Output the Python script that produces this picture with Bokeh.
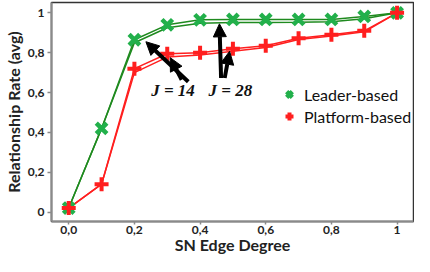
from bokeh.plotting import figure
from bokeh.models import (Range1d, FixedTicker, Arrow, NormalHead, Label,
                          Legend, LegendItem, ColumnDataSource)
from bokeh.embed import file_html
from bokeh.resources import INLINE

# ---- data ----
edge_degree = [0.0, 0.1, 0.2, 0.3, 0.4, 0.5, 0.6, 0.7, 0.8, 0.9, 1.0]
leader_j14 = [0.02, 0.42, 0.865, 0.94, 0.965, 0.967, 0.967, 0.967, 0.967, 0.982, 1.0]
leader_j28 = [0.02, 0.42, 0.85, 0.925, 0.948, 0.952, 0.952, 0.953, 0.955, 0.97, 1.0]
platform_j14 = [0.02, 0.14, 0.72, 0.795, 0.80, 0.82, 0.835, 0.873, 0.89, 0.91, 1.0]
platform_j28 = [0.02, 0.14, 0.70, 0.778, 0.788, 0.807, 0.826, 0.866, 0.884, 0.905, 1.0]

x_ticks = [0.0, 0.2, 0.4, 0.6, 0.8, 1.0]
x_tick_labels = ["0,0", "0,2", "0,4", "0,6", "0,8", "1"]
y_ticks = [0.0, 0.2, 0.4, 0.6, 0.8, 1.0]
y_tick_labels = ["0", "0,2", "0,4", "0,6", "0,8", "1"]

series_names = ["Leader-based", "Platform-based"]
annotation_texts = ["J = 14", "J = 28"]

GREEN_M = "#22b04b"
GREEN_L = "#1f8a1f"
RED = "#ff1f1f"

src = ColumnDataSource(dict(x=edge_degree, l14=leader_j14, l28=leader_j28,
                            p14=platform_j14, p28=platform_j28))

p = figure(width=414, height=256, output_backend="svg", toolbar_location=None,
           x_range=Range1d(-0.0525, 1.05), y_range=Range1d(-0.0474, 1.052),
           min_border_left=41, min_border_right=1, min_border_top=2,
           min_border_bottom=30)
p.xgrid.visible = False
p.ygrid.visible = False
p.outline_line_color = "#333333"
p.outline_line_width = 1.5
p.background_fill_color = "white"

# lines
p.line("x", "p28", source=src, line_color=RED, line_width=1.5)
p.line("x", "p14", source=src, line_color=RED, line_width=1.5)
p.line("x", "l28", source=src, line_color=GREEN_L, line_width=1.5)
p.line("x", "l14", source=src, line_color=GREEN_L, line_width=1.5)
# markers
r_leader = p.scatter("x", "l14", source=src, marker="x", size=15, line_width=4.5,
                     line_color=GREEN_M)
r_platform = p.scatter("x", "p14", source=src, marker="cross", size=14, line_width=4,
                       line_color=RED)

legend = Legend(items=[LegendItem(label=series_names[0], renderers=[r_leader]),
                       LegendItem(label=series_names[1], renderers=[r_platform])],
                location=(228, 95), orientation="vertical",
                border_line_color=None, background_fill_alpha=0,
                padding=0, margin=0, spacing=2, glyph_width=20, glyph_height=20,
                label_standoff=5, label_text_font="Lato", label_text_font_size="16px",
                label_text_color="#111111")
p.add_layout(legend, "center")

# arrows
head = lambda: NormalHead(size=13, fill_color="black", line_color="black", line_width=1)
for xs, ys, xe, ye in [(0.364, 0.654, 0.235, 0.855),
                       (0.344, 0.664, 0.309, 0.775),
                       (0.464, 0.673, 0.459, 0.945),
                       (0.475, 0.673, 0.490, 0.807)]:
    p.add_layout(Arrow(end=head(), x_start=xs, y_start=ys, x_end=xe, y_end=ye,
                       line_width=4, line_color="black"))

for txt, xl in zip(annotation_texts, [0.251, 0.426]):
    p.add_layout(Label(x=xl, y=0.611, text=txt, text_font="Liberation Serif",
                       text_font_style="bold italic", text_font_size="17px",
                       text_baseline="middle", text_align="left", text_color="#111111"))

# axes
for ax in (p.xaxis[0], p.yaxis[0]):
    ax.axis_line_color = "#8a8a8a"
    ax.axis_line_width = 2
    ax.major_tick_line_color = "#8a8a8a"
    ax.major_tick_line_width = 1.5
    ax.major_tick_in = 0
    ax.minor_tick_out = 0
    ax.minor_tick_in = 0
    ax.major_label_text_font = "Lato"
    ax.major_label_text_font_style = "bold"
    ax.major_label_text_font_size = "12px"
    ax.major_label_text_color = "#222222"
    ax.axis_label_text_font = "Lato"
    ax.axis_label_text_font_style = "bold"
    ax.axis_label_text_color = "#222222"

p.xaxis.ticker = FixedTicker(ticks=x_ticks)
p.yaxis.ticker = FixedTicker(ticks=y_ticks)
p.xaxis.major_label_overrides = {t: l for t, l in zip(x_ticks, x_tick_labels)}
p.yaxis.major_label_overrides = {t: l for t, l in zip(y_ticks, y_tick_labels)}
p.xaxis.axis_label = "SN Edge Degree"
p.xaxis.axis_label_text_font_size = "16px"
p.xaxis.major_tick_out = 3
p.xaxis.axis_label_standoff = -2
p.xaxis.major_label_standoff = 1
p.yaxis.axis_label = "Relationship Rate (avg)"
p.yaxis.axis_label_text_font_size = "16px"
p.yaxis.major_tick_out = 4
p.yaxis.axis_label_standoff = 2
p.yaxis.major_label_standoff = 3

open("out.html", "w").write(file_html(p, INLINE))
